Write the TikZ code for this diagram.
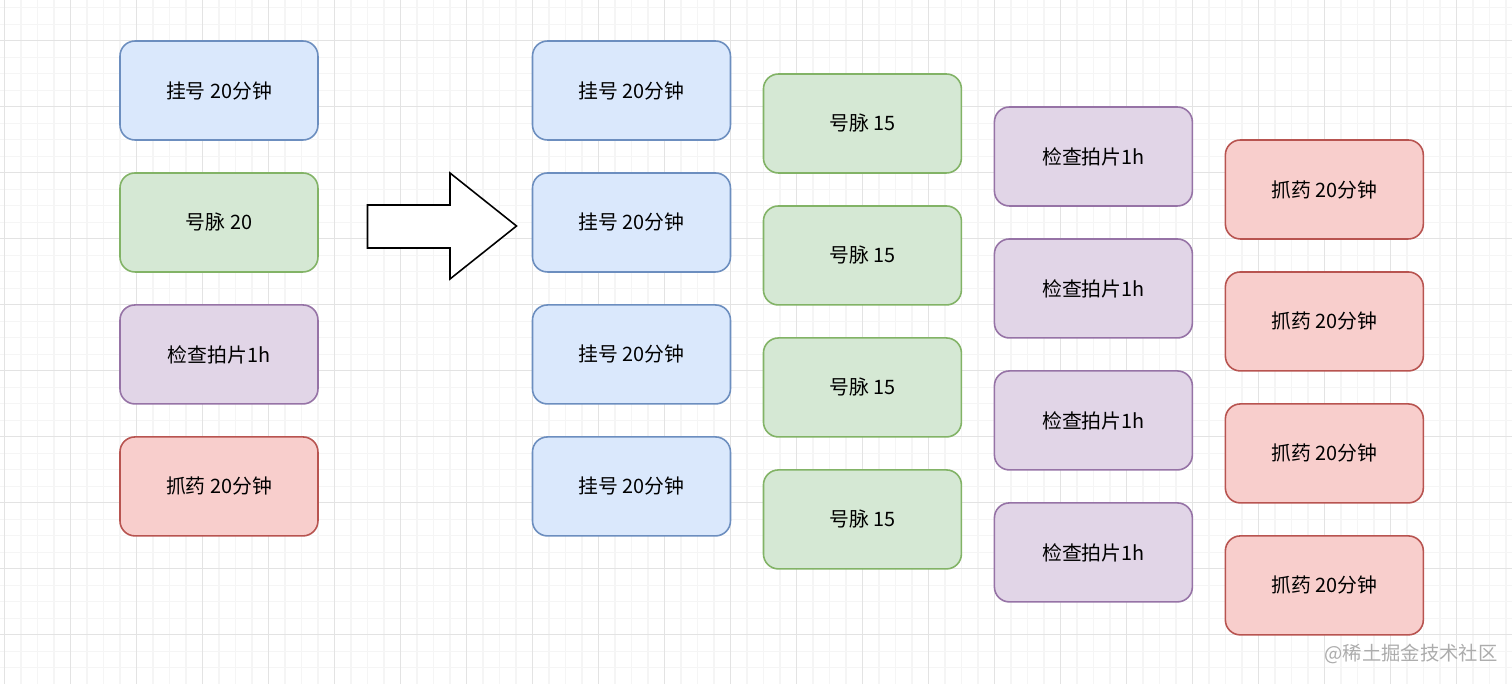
\documentclass[tikz,border=0pt]{standalone}
\usepackage{fontspec}
\setmainfont{Noto Sans CJK SC}
\usetikzlibrary{positioning}
\definecolor{guahaoFill}{HTML}{DAE8FC}
\definecolor{guahaoLine}{HTML}{6C8EBF}
\definecolor{haomaiFill}{HTML}{D5E8D4}
\definecolor{haomaiLine}{HTML}{82B366}
\definecolor{jianchaFill}{HTML}{E1D5E7}
\definecolor{jianchaLine}{HTML}{9673A6}
\definecolor{zhuayaoFill}{HTML}{F8CECC}
\definecolor{zhuayaoLine}{HTML}{B85450}
\tikzset{
  box/.style      = {draw, rounded corners=0.3cm, line width=0.9pt, align=center,
                     minimum width=3.96cm, minimum height=1.98cm, inner sep=0pt,
                     outer sep=0pt, font=\fontsize{11.3}{13}\selectfont},
  guahao/.style   = {box, fill=guahaoFill, draw=guahaoLine},
  haomai/.style   = {box, fill=haomaiFill, draw=haomaiLine},
  jiancha/.style  = {box, fill=jianchaFill, draw=jianchaLine},
  zhuayao/.style  = {box, fill=zhuayaoFill, draw=zhuayaoLine},
  gridminor/.style = {draw=gray!8, line width=0.6pt},
  gridmajor/.style = {draw=gray!22, line width=0.6pt},
  bigarrow/.style = {draw=black, fill=white, line width=0.9pt, line join=miter},
}
\begin{document}
\begin{tikzpicture}[x=0.02cm, y=-0.02cm, node distance=0.66cm and 0.66cm]
  \useasboundingbox (0,0) rectangle (1512,684);
  \fill[white] (0,0) rectangle (1512,684);
  % background grid
  \foreach \i in {0,...,91} \draw[gridminor] ({4.5+16.5*\i},0) -- ++(0,684);
  \foreach \i in {0,...,40} \draw[gridminor] (0,{7.7+16.5*\i}) -- ++(1512,0);
  \foreach \i in {0,...,22} \draw[gridmajor] ({4.5+66*\i},0) -- ++(0,684);
  \foreach \i in {0,...,9} \draw[gridmajor] (0,{40.7+66*\i}) -- ++(1512,0);
  % serial steps
  \node[guahao, anchor=north west] (a1) at (120,41) {挂号 20分钟};
  \node[haomai, below=of a1] (a2) {号脉 20};
  \node[jiancha, below=of a2] (a3) {检查拍片1h};
  \node[zhuayao, below=of a3] (a4) {抓药 20分钟};
  % big arrow
  \draw[bigarrow] (367.5,205) -- (450,205) -- (450,173) -- (516.5,226)
    -- (450,279) -- (450,248) -- (367.5,248) -- cycle;
  % pipelined steps
  \node[guahao, anchor=north west] (b1) at (532.5,41) {挂号 20分钟};
  \foreach \i [count=\j] in {2,3,4} \node[guahao, below=of b\j] (b\i) {挂号 20分钟};
  \node[haomai, right=of b1, yshift=-0.66cm] (c1) {号脉 15};
  \foreach \i [count=\j] in {2,3,4} \node[haomai, below=of c\j] (c\i) {号脉 15};
  \node[jiancha, right=of c1, yshift=-0.66cm] (d1) {检查拍片1h};
  \foreach \i [count=\j] in {2,3,4} \node[jiancha, below=of d\j] (d\i) {检查拍片1h};
  \node[zhuayao, right=of d1, yshift=-0.66cm] (e1) {抓药 20分钟};
  \foreach \i [count=\j] in {2,3,4} \node[zhuayao, below=of e\j] (e\i) {抓药 20分钟};
  \node[text=gray!65, font=\fontsize{11}{13}\selectfont] (mark) at (1411,654) {@稀土掘金技术社区};
\end{tikzpicture}
\end{document}
